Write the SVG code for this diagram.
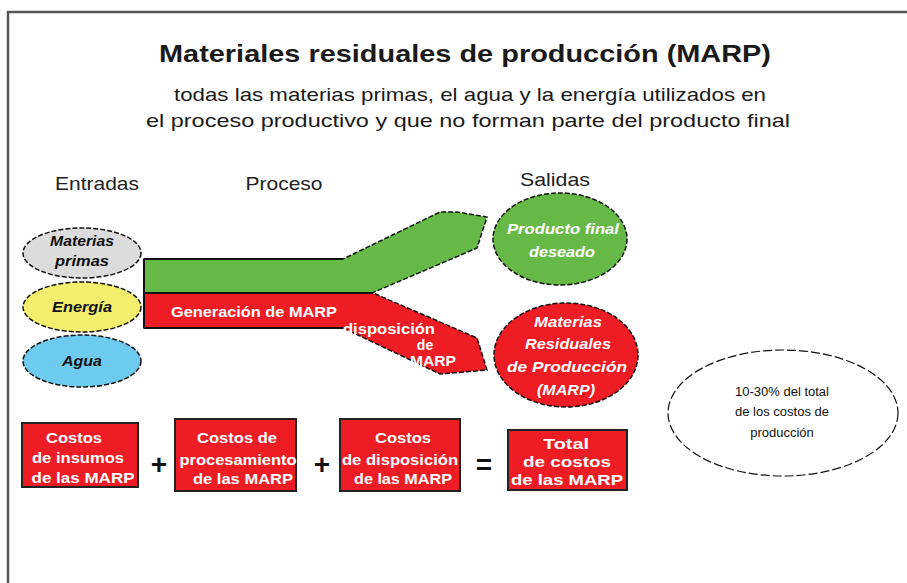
<svg xmlns="http://www.w3.org/2000/svg" width="907" height="583" viewBox="0 0 907 583">
<style>
.t{font-family:"Liberation Sans",Arial,sans-serif;}
.title{font-family:"Liberation Sans",Arial,sans-serif;font-weight:bold;font-size:24px;fill:#1a1a1a;}
.sub{font-family:"Liberation Sans",Arial,sans-serif;font-size:19px;fill:#1a1a1a;}
.hdr{font-family:"Liberation Sans",Arial,sans-serif;font-size:19px;fill:#222;}
.in{font-family:"Liberation Sans",Arial,sans-serif;font-size:14px;font-weight:bold;font-style:italic;fill:#111;}
.w{font-family:"Liberation Sans",Arial,sans-serif;font-size:14px;font-weight:bold;fill:#fff;}
.b{font-family:"Liberation Sans",Arial,sans-serif;font-size:15px;font-weight:bold;fill:#fff;}
.wi{font-family:"Liberation Sans",Arial,sans-serif;font-size:14px;font-weight:bold;font-style:italic;fill:#fff;}
.op{font-family:"Liberation Sans",Arial,sans-serif;font-size:28px;font-weight:bold;fill:#111;}
.dash{stroke:#111;stroke-width:1.5;stroke-dasharray:5 2;}
.box{fill:#ee1c24;stroke:#222;stroke-width:2;}
</style>
<rect width="907" height="583" fill="#fff"/>
<path d="M8 583 V12 H907" fill="none" stroke="#555" stroke-width="2.5"/>
<text class="title" x="465" y="62" text-anchor="middle" textLength="612" lengthAdjust="spacingAndGlyphs">Materiales residuales de producción  (MARP)</text>
<text class="sub" x="470" y="101" text-anchor="middle" textLength="592" lengthAdjust="spacingAndGlyphs">todas las materias primas,  el agua  y la energía utilizados en</text>
<text class="sub" x="468" y="127" text-anchor="middle" textLength="644" lengthAdjust="spacingAndGlyphs">el proceso productivo y que no forman parte del producto final</text>
<text class="hdr" x="97" y="190" text-anchor="middle" textLength="84" lengthAdjust="spacingAndGlyphs">Entradas</text>
<text class="hdr" x="284" y="190" text-anchor="middle" textLength="77" lengthAdjust="spacingAndGlyphs">Proceso</text>
<text class="hdr" x="555" y="186" text-anchor="middle" textLength="70" lengthAdjust="spacingAndGlyphs">Salidas</text>
<g id="connectors">
<path id="flow-product" d="M144 259 H343 L440 212 H457 L487 217 L477 248 L372 293 H144 Z" fill="#66b946" class="dash"/>
<path id="flow-marp" d="M144 293 H373 L477 338 L487 370 L440 374 L343 328 H144 Z" fill="#ee1c24" class="dash"/>
<path d="M144 259 V328" stroke="#111" stroke-width="2" fill="none"/>
<path d="M144 259 H343 M144 293 H373 M144 328 H343" stroke="#111" stroke-width="2" fill="none"/>
</g>
<text class="w" x="254" y="317" text-anchor="middle" textLength="166" lengthAdjust="spacingAndGlyphs">Generación de MARP</text>
<text class="w" x="389" y="334" text-anchor="middle" textLength="92" lengthAdjust="spacingAndGlyphs">disposición</text>
<text class="w" x="425" y="350" text-anchor="middle">de</text>
<text class="w" x="433" y="366" text-anchor="middle" textLength="46" lengthAdjust="spacingAndGlyphs">MARP</text>
<g id="materias-primas">
<ellipse cx="82" cy="253" rx="59" ry="25" fill="#dcdcdc" class="dash"/>
<text class="in" x="82" y="246" text-anchor="middle" textLength="64" lengthAdjust="spacingAndGlyphs">Materias</text>
<text class="in" x="82" y="266" text-anchor="middle" textLength="54" lengthAdjust="spacingAndGlyphs">primas</text>
</g>
<g id="energia">
<ellipse cx="82" cy="307" rx="59" ry="25" fill="#f4ee6e" class="dash"/>
<text class="in" x="82" y="312" text-anchor="middle" textLength="60" lengthAdjust="spacingAndGlyphs">Energía</text>
</g>
<g id="agua">
<ellipse cx="82" cy="361" rx="59" ry="26" fill="#6dcbf0" class="dash"/>
<text class="in" x="82" y="366" text-anchor="middle" textLength="40" lengthAdjust="spacingAndGlyphs">Agua</text>
</g>
<g id="producto-final">
<ellipse cx="560" cy="239" rx="67" ry="46" fill="#66b946" class="dash"/>
<text class="wi" x="563" y="234" text-anchor="middle" textLength="112" lengthAdjust="spacingAndGlyphs">Producto final</text>
<text class="wi" x="562" y="257" text-anchor="middle" textLength="66" lengthAdjust="spacingAndGlyphs">deseado</text>
</g>
<g id="marp">
<ellipse cx="566" cy="355" rx="72" ry="52" fill="#ee1c24" class="dash"/>
<text class="wi" x="568" y="327" text-anchor="middle" textLength="68" lengthAdjust="spacingAndGlyphs">Materias</text>
<text class="wi" x="568" y="349" text-anchor="middle" textLength="86" lengthAdjust="spacingAndGlyphs">Residuales</text>
<text class="wi" x="567" y="372" text-anchor="middle" textLength="120" lengthAdjust="spacingAndGlyphs">de Producción</text>
<text class="wi" x="566" y="395" text-anchor="middle" textLength="58" lengthAdjust="spacingAndGlyphs">(MARP)</text>
</g>
<g id="porcentaje">
<ellipse cx="783" cy="413" rx="115" ry="63" fill="#fff" stroke="#111" stroke-width="1.2" stroke-dasharray="9 3"/>
<text class="t" x="782" y="396" text-anchor="middle" font-size="13" fill="#111">10-30% del total</text>
<text class="t" x="782" y="416" text-anchor="middle" font-size="13" fill="#111">de los costos de</text>
<text class="t" x="782" y="437" text-anchor="middle" font-size="13" fill="#111">producción</text>
</g>
<g id="costos-insumos">
<rect class="box" x="22" y="423" width="116" height="64"/>
<text class="b" x="74" y="443" text-anchor="middle" textLength="56" lengthAdjust="spacingAndGlyphs">Costos</text>
<text class="b" x="78" y="463" text-anchor="middle" textLength="92" lengthAdjust="spacingAndGlyphs">de insumos</text>
<text class="b" x="83" y="483" text-anchor="middle" textLength="103" lengthAdjust="spacingAndGlyphs">de las MARP</text>
</g>
<text class="op" x="159" y="474" text-anchor="middle">+</text>
<g id="costos-procesamiento">
<rect class="box" x="175" y="419" width="121" height="72"/>
<text class="b" x="237" y="443" text-anchor="middle" textLength="80" lengthAdjust="spacingAndGlyphs">Costos de</text>
<text class="b" x="238" y="465" text-anchor="middle" textLength="117" lengthAdjust="spacingAndGlyphs">procesamiento</text>
<text class="b" x="243" y="484" text-anchor="middle" textLength="100" lengthAdjust="spacingAndGlyphs">de las MARP</text>
</g>
<text class="op" x="322" y="474" text-anchor="middle">+</text>
<g id="costos-disposicion">
<rect class="box" x="340" y="419" width="120" height="72"/>
<text class="b" x="403" y="443" text-anchor="middle" textLength="56" lengthAdjust="spacingAndGlyphs">Costos</text>
<text class="b" x="400" y="465" text-anchor="middle" textLength="116" lengthAdjust="spacingAndGlyphs">de disposición</text>
<text class="b" x="403" y="484" text-anchor="middle" textLength="98" lengthAdjust="spacingAndGlyphs">de las MARP</text>
</g>
<text class="op" x="484" y="474" text-anchor="middle">=</text>
<g id="total-costos">
<rect class="box" x="508" y="430" width="119" height="60"/>
<text class="b" x="566" y="449" text-anchor="middle" font-size="16" textLength="46" lengthAdjust="spacingAndGlyphs">Total</text>
<text class="b" x="567" y="467" text-anchor="middle" textLength="88" lengthAdjust="spacingAndGlyphs">de costos</text>
<text class="b" x="567" y="485" text-anchor="middle" textLength="112" lengthAdjust="spacingAndGlyphs">de las MARP</text>
</g>
</svg>
